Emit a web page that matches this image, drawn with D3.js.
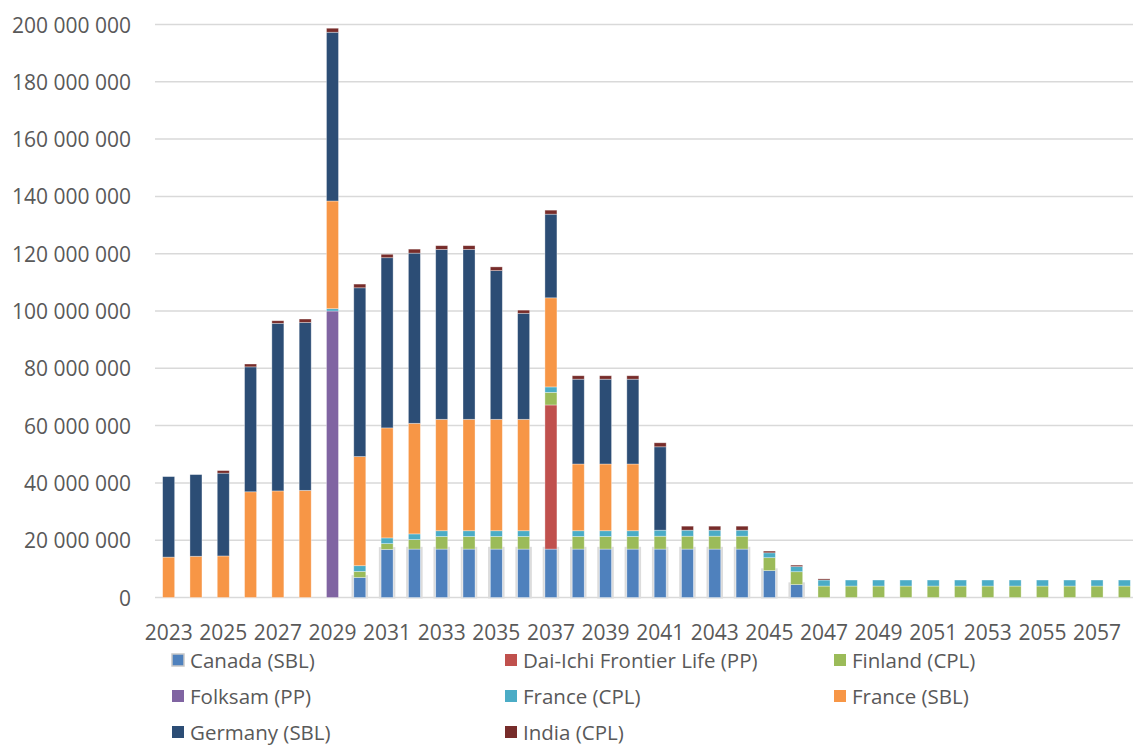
<!DOCTYPE html>
<html>
<head>
<meta charset="utf-8">
<script src="https://cdn.jsdelivr.net/npm/d3@7"></script>
<style>
  html, body { margin: 0; padding: 0; background: #fff; }
  svg { display: block; }
  text { font-family: "Open Sans", sans-serif; fill: #595959; }
</style>
</head>
<body>
<svg id="chart" width="1133" height="747"></svg>
<script>
// Years on the category axis
const years = d3.range(2023, 2059);

// Cash flows per portfolio (millions), one value per year 2023–2058
const canadaSBL = [0,0,0,0,0,0,0,7.0,16.8,16.9,16.9,16.9,16.9,16.9,16.9,16.9,16.9,16.9,16.9,16.9,16.9,16.9,9.4,4.5,0,0,0,0,0,0,0,0,0,0,0,0];
const daiIchiPP = [0,0,0,0,0,0,0,0,0,0,0,0,0,0,50.3,0,0,0,0,0,0,0,0,0,0,0,0,0,0,0,0,0,0,0,0,0];
const finlandCPL = [0,0,0,0,0,0,0,2.1,2.0,3.3,4.4,4.4,4.4,4.4,4.4,4.4,4.4,4.4,4.5,4.5,4.5,4.5,4.5,4.5,4.0,4.0,4.0,4.0,4.0,4.0,4.0,4.0,4.0,4.0,4.0,4.0];
const folksamPP = [0,0,0,0,0,0,100.0,0,0,0,0,0,0,0,0,0,0,0,0,0,0,0,0,0,0,0,0,0,0,0,0,0,0,0,0,0];
const franceCPL = [0,0,0,0,0,0,0.8,2.0,2.0,2.0,2.0,2.0,2.0,2.0,1.9,2.0,2.0,2.0,2.1,2.1,2.1,2.1,1.7,1.8,2.1,2.1,2.1,2.1,2.1,2.1,2.1,2.1,2.1,2.1,2.1,2.1];
const franceSBL = [14.1,14.4,14.5,36.9,37.2,37.4,37.6,38.1,38.4,38.6,38.9,38.9,38.9,38.9,31.1,23.3,23.3,23.3,0,0,0,0,0,0,0,0,0,0,0,0,0,0,0,0,0,0];
const germanySBL = [28.1,28.5,28.9,43.6,58.5,58.6,58.9,58.9,59.4,59.4,59.3,59.3,51.9,37.0,29.2,29.6,29.6,29.6,29.1,0,0,0,0,0,0,0,0,0,0,0,0,0,0,0,0,0];
const indiaCPL = [0,0,0.9,1.0,0.9,1.2,1.4,1.3,1.2,1.4,1.3,1.3,1.3,1.1,1.4,1.2,1.2,1.2,1.4,1.4,1.4,1.4,0.6,0.5,0.4,0,0,0,0,0,0,0,0,0,0,0];

// Series names, bottom to top of each stack, and their colours
const seriesNames = ["Canada (SBL)", "Dai-Ichi Frontier Life (PP)", "Finland (CPL)", "Folksam (PP)",
                     "France (CPL)", "France (SBL)", "Germany (SBL)", "India (CPL)"];
const seriesValues = [canadaSBL, daiIchiPP, finlandCPL, folksamPP, franceCPL, franceSBL, germanySBL, indiaCPL];
const seriesColors = ["#4F81BD", "#C0504D", "#9BBB59", "#8064A2", "#4BACC6", "#F79646", "#2C4D75", "#772C2A"];

// Axis ticks
const yTicks = [0, 20e6, 40e6, 60e6, 80e6, 100e6, 120e6, 140e6, 160e6, 180e6, 200e6];
const xTickYears = years.filter((y, i) => i % 2 === 0);

// Rows for d3.stack, values in units
const rows = years.map((yr, i) => {
  const r = { year: yr };
  seriesNames.forEach((n, k) => { r[n] = seriesValues[k][i] * 1e6; });
  return r;
});
const stacked = d3.stack().keys(seriesNames)(rows);

const svg = d3.select("#chart");
const x = d3.scaleBand().domain(years).range([155, 1138]).paddingInner(0.56).paddingOuter(0.28);
const y = d3.scaleLinear().domain([0, 200e6]).range([597.5, 24.5]);

const fmt = d3.formatLocale({ decimal: ",", thousands: " ", grouping: [3], currency: ["", ""] }).format(",d");

// Gridlines
svg.append("g").selectAll("line").data(yTicks).join("line")
  .attr("x1", 155).attr("x2", 1133)
  .attr("y1", d => y(d)).attr("y2", d => y(d))
  .attr("stroke", "#d9d9d9").attr("stroke-width", 1.5);

// Y axis labels
svg.append("g").selectAll("text").data(yTicks).join("text")
  .attr("x", 131).attr("y", d => y(d))
  .attr("text-anchor", "end").attr("dominant-baseline", "central")
  .attr("font-size", 21)
  .text(d => fmt(d));

// X axis labels
svg.append("g").selectAll("text").data(xTickYears).join("text")
  .attr("x", d => x(d) + x.bandwidth() / 2).attr("y", 632)
  .attr("text-anchor", "middle").attr("dominant-baseline", "central")
  .attr("font-size", 21)
  .text(d => d);

// Bars
const layers = svg.append("g").selectAll("g").data(stacked).join("g")
  .attr("fill", (d, i) => seriesColors[i]);

// Soft grey halo around the Canada segments
layers.filter((d, i) => i === 0).selectAll("rect.halo")
  .data(d => d.filter(s => s[1] - s[0] > 0)).join("rect")
  .attr("class", "halo")
  .attr("x", s => x(s.data.year) - 1.25)
  .attr("y", s => y(s[1]) - 1.25)
  .attr("width", x.bandwidth() + 2.5)
  .attr("height", s => y(s[0]) - y(s[1]) + 1.25)
  .attr("fill", "none").attr("stroke", "#dcdcdc").attr("stroke-width", 2);

layers.selectAll("rect.seg")
  .data(d => d.filter(s => s[1] - s[0] > 0)).join("rect")
  .attr("class", "seg")
  .attr("x", s => x(s.data.year))
  .attr("y", s => y(s[1]))
  .attr("width", x.bandwidth())
  .attr("height", s => y(s[0]) - y(s[1]))
  .attr("stroke", "rgba(255,255,255,0.45)").attr("stroke-width", 0.75);

// Legend: three columns
const legendCols = [172, 505, 834];
const legendRows = [660, 696, 732];
const legend = svg.append("g").selectAll("g").data(seriesNames).join("g")
  .attr("transform", (d, i) => `translate(${legendCols[i % 3]},${legendRows[Math.floor(i / 3)]})`);
legend.append("rect")
  .attr("x", 0).attr("y", -6).attr("width", 12).attr("height", 12)
  .attr("fill", (d, i) => seriesColors[i])
  .attr("stroke", (d, i) => i === 0 ? "#c8c8c8" : "none").attr("stroke-width", 1.5);
legend.append("text")
  .attr("x", 18).attr("y", 0).attr("dominant-baseline", "central")
  .attr("font-size", 20.5)
  .text(d => d);
</script>
</body>
</html>
